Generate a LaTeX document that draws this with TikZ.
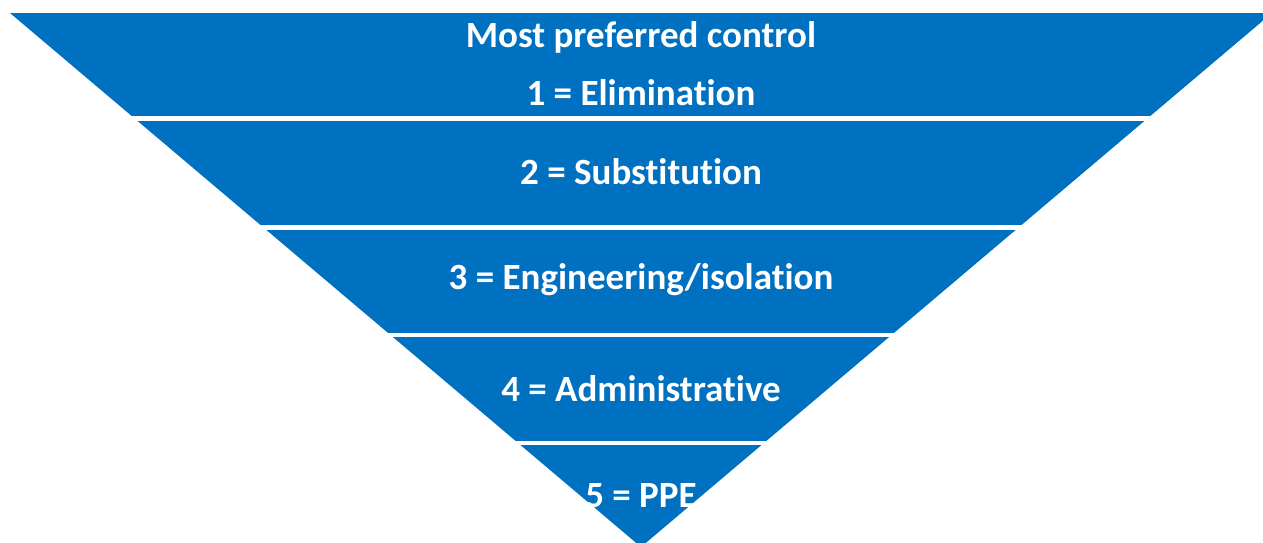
\documentclass[tikz,border=0pt]{standalone}
\usepackage{fontspec}
\setmainfont{Carlito}[Ligatures=NoCommon]
\usepackage{xcolor}
\usepackage{tikz}
\usetikzlibrary{positioning}

\definecolor{ctrlblue}{RGB}{0,112,192}

\begin{document}
\begin{tikzpicture}[
      x=0.5pt, y=-0.5pt,
      band/.style = {fill=ctrlblue},
      every node/.style = {text=white, font=\bfseries\fontsize{18.5}{21}\selectfont,
                           inner sep=0pt, anchor=center}
    ]
    \useasboundingbox (0,0) rectangle (1263,542);
    \clip (0,0) rectangle (1263,542);

    % inverted triangle, cut into five bands
    \begin{scope}
      \clip (10,13) -- (1272,13) -- (641,547) -- cycle;
      \foreach \top/\bot in {13/116, 121/225, 230/333, 337/441, 445/560}
        \fill[band] (0,\top) rectangle (1263,\bot);
    \end{scope}

    \node (most)  at (641,37)  {Most preferred control};
    \node (elim)  at (641,93)  {1 = Elimination};
    \node (subst) at (641,172) {2 = Substitution};
    \node (eng)   at (641,280) {3 = Engineering/isolation};
    \node (admin) at (641,389) {4 = Administrative};
    \node (ppe)   at (641,496) {5 = PPE};
  \end{tikzpicture}
\end{document}
